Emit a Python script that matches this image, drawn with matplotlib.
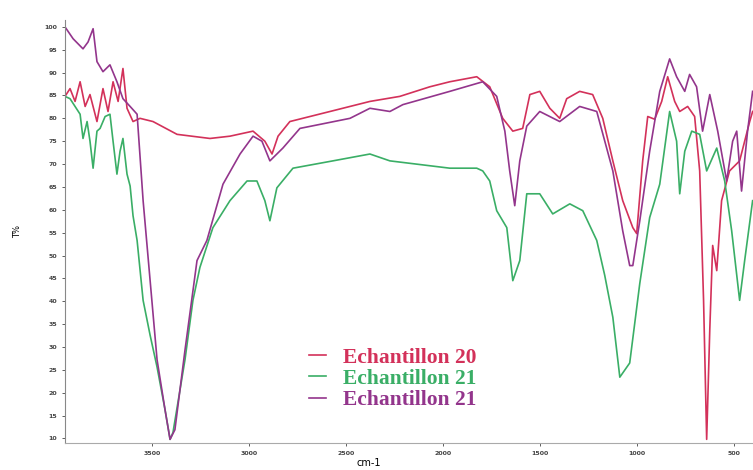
import numpy as np
import matplotlib
matplotlib.use('Agg')
import matplotlib.pyplot as plt

# IR spectra, wavenumber (cm-1) vs transmittance (%)
wn_20 = [3949, 3923, 3897, 3871, 3845, 3820, 3784, 3753, 3727, 3701,
         3675, 3650, 3629, 3598, 3562, 3495, 3371, 3201, 3098, 2979,
         2918, 2881, 2850, 2789, 2582, 2376, 2222, 2067, 1964, 1825,
         1758, 1691, 1639, 1588, 1551, 1500, 1448, 1397, 1361, 1294,
         1227, 1175, 1123, 1072, 1020, 1000, 969, 943, 907, 871,
         840, 804, 778, 737, 701, 675, 655, 639, 623, 608,
         587, 562, 521, 469, 417, 402]
t_20 = [84.8, 86.5, 83.7, 88.0, 82.6, 85.2, 79.3, 86.5, 81.5, 88.0,
        83.7, 90.9, 82.2, 79.3, 80.0, 79.3, 76.5, 75.6, 76.1, 77.2,
        75.0, 72.2, 76.1, 79.3, 81.5, 83.7, 84.8, 86.9, 88.0, 89.1,
        86.9, 80.0, 77.2, 77.8, 85.2, 85.9, 82.2, 80.0, 84.3, 85.9,
        85.2, 80.0, 70.7, 62.0, 56.1, 54.8, 70.7, 80.4, 79.8, 83.7,
        89.1, 83.7, 81.5, 82.6, 80.4, 68.5, 40.2, 9.8, 33.7, 52.2,
        46.7, 62.0, 68.5, 70.7, 79.3, 81.5]

wn_21 = [3949, 3923, 3897, 3871, 3856, 3835, 3820, 3804, 3784, 3768,
         3742, 3717, 3701, 3681, 3665, 3650, 3629, 3613, 3598, 3577,
         3546, 3510, 3474, 3433, 3407, 3392, 3330, 3289, 3253, 3186,
         3098, 3010, 2959, 2918, 2892, 2856, 2773, 2567, 2376, 2273,
         1964, 1825, 1794, 1758, 1722, 1670, 1639, 1603, 1567, 1500,
         1433, 1345, 1278, 1206, 1165, 1123, 1087, 1036, 984, 933,
         881, 830, 794, 778, 752, 716, 675, 639, 587, 546,
         510, 469, 443, 402]
t_21 = [84.8, 84.3, 82.6, 80.9, 75.6, 79.3, 75.0, 69.1, 77.2, 77.8,
        80.4, 80.9, 75.0, 67.8, 72.8, 75.6, 67.8, 65.2, 58.7, 53.3,
        40.2, 32.6, 25.6, 16.3, 9.8, 11.3, 27.2, 40.2, 47.4, 56.1,
        62.0, 66.3, 66.3, 62.0, 57.6, 64.8, 69.1, 70.7, 72.2, 70.7,
        69.1, 69.1, 68.5, 66.3, 59.8, 56.1, 44.5, 48.9, 63.5, 63.5,
        59.1, 61.3, 59.8, 53.3, 45.7, 36.5, 23.4, 26.5, 43.9, 58.3,
        65.6, 81.5, 75.0, 63.5, 72.8, 77.2, 76.5, 68.5, 73.5, 66.3,
        55.4, 40.2, 48.9, 62.0]

wn_21b = [3949, 3907, 3856, 3830, 3804, 3784, 3753, 3717, 3681, 3650,
          3613, 3577, 3546, 3474, 3433, 3407, 3382, 3330, 3268, 3217,
          3134, 3046, 2979, 2933, 2892, 2825, 2737, 2479, 2376, 2273,
          2206, 1964, 1794, 1722, 1680, 1655, 1629, 1603, 1567, 1500,
          1397, 1294, 1206, 1123, 1072, 1036, 1020, 984, 933, 881,
          830, 794, 752, 727, 691, 660, 623, 582, 536, 505,
          484, 459, 428, 402]
t_21b = [100.0, 97.4, 95.2, 96.7, 99.6, 92.4, 90.2, 91.7, 88.0, 84.3,
         82.6, 80.9, 62.0, 27.2, 16.3, 9.8, 11.9, 29.3, 48.9, 53.3,
         65.6, 72.2, 76.1, 75.0, 70.7, 73.5, 77.8, 80.0, 82.2, 81.5,
         83.0, 85.9, 88.0, 84.8, 77.2, 68.5, 60.9, 70.7, 78.3, 81.5,
         79.3, 82.6, 81.5, 68.5, 55.4, 47.8, 47.8, 57.6, 72.8, 85.9,
         93.0, 89.1, 85.9, 89.6, 86.9, 77.2, 85.2, 77.2, 66.3, 75.0,
         77.2, 64.1, 77.2, 85.9]

labels = ['Echantillon 20', 'Echantillon 21', 'Echantillon 21']
colors = ['#d3315a', '#3aae66', '#93358c']

y_ticks = list(range(100, 5, -5))
x_ticks = [3500, 3000, 2500, 2000, 1500, 1000, 500]

fig = plt.figure(figsize=(7.53, 4.70), dpi=100)
ax = fig.add_axes([0.0863, 0.0574, 0.9137, 0.9])

ax.plot(wn_20, t_20, color=colors[0], lw=1.2, label=labels[0])
ax.plot(wn_21, t_21, color=colors[1], lw=1.2, label=labels[1])
ax.plot(wn_21b, t_21b, color=colors[2], lw=1.2, label=labels[2])

ax.set_xlim(3949, 400)
ax.set_ylim(9, 101.5)
ax.set_yticks(y_ticks)
ax.set_xticks(x_ticks)
ax.tick_params(axis='both', labelsize=4.5, length=2, width=0.6, colors='#444444')
for lab in ax.get_xticklabels() + ax.get_yticklabels():
    lab.set_fontweight('bold')

for s in ['top', 'right']:
    ax.spines[s].set_visible(False)
ax.spines['left'].set_color('#888888')
ax.spines['bottom'].set_color('#aaaaaa')
ax.spines['bottom'].set_linestyle((0, (2, 1)))

ax.set_ylabel('T%', fontsize=6, labelpad=16)
fig.text(0.49, 0.014, 'cm-1', fontsize=7, ha='center', va='center')

leg = ax.legend(loc='upper left', bbox_to_anchor=(0.396, 0.283),
                bbox_transform=fig.transFigure, frameon=False, borderpad=0,
                prop={'family': 'Liberation Serif', 'size': 15.5, 'weight': 'bold'},
                handlelength=0.8, handletextpad=0.8, labelspacing=0.05)
for txt, c in zip(leg.get_texts(), colors):
    txt.set_color(c)

fig.savefig('out.png', dpi=100)
